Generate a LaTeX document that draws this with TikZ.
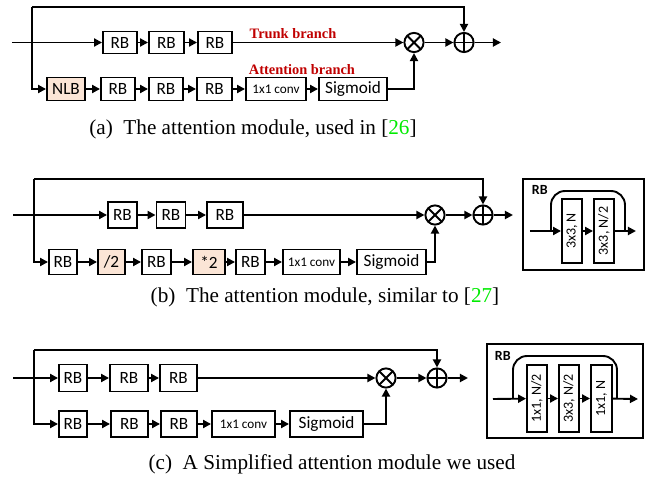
\documentclass[tikz,border=0pt]{standalone}
\usepackage{fontspec}
\setmainfont{Liberation Serif}
\newfontfamily\calib{Carlito}
\usetikzlibrary{arrows.meta}
\usetikzlibrary{calc}

\definecolor{peach}{RGB}{251,229,214}
\definecolor{branchred}{RGB}{192,0,0}
\definecolor{citegreen}{RGB}{0,235,0}

\tikzset{
	arr/.style={-{Triangle[length=4pt,width=4pt]}},
	blk/.style={draw, inner sep=0pt, font=\calib\fontsize{8.6}{9}\selectfont},
	blkf/.style={blk, fill=peach},
	cnv/.style={blk, font=\calib\fontsize{6.6}{7}\selectfont},
	mulop/.style={draw, circle, inner sep=0pt, minimum size=9.6pt,
		path picture={\draw (path picture bounding box.north west) -- (path picture bounding box.south east)
			(path picture bounding box.north east) -- (path picture bounding box.south west);}},
	addop/.style={draw, circle, inner sep=0pt, minimum size=9.6pt,
		path picture={\draw (path picture bounding box.north) -- (path picture bounding box.south)
			(path picture bounding box.west) -- (path picture bounding box.east);}},
	lbl/.style={text=branchred, font=\fontsize{7.2}{8}\selectfont\bfseries},
	captxt/.style={font=\fontsize{10.6}{12}\selectfont},
	subblk/.style={draw, inner sep=0pt, minimum width=10pt, rotate=90, font=\calib\fontsize{7}{8}\selectfont},
	rbname/.style={anchor=north west, inner sep=0pt, font=\calib\bfseries\fontsize{7}{8}\selectfont}
}

\begin{document}
\begin{tikzpicture}[x=0.5pt, y=-0.5pt, line width=0.95pt]
	\useasboundingbox (0,0) rectangle (650,482);

	%%% (a) attention module with NLB %%%

	\node[blk, minimum width=17pt, minimum height=11pt] (aT1) at (120,42.5) {RB};
	\node[blk, minimum width=17.5pt, minimum height=11pt] (aT2) at (166.5,42.5) {RB};
	\node[blk, minimum width=17pt, minimum height=11pt] (aT3) at (215,42.5) {RB};

	\node[blkf, minimum width=19pt, minimum height=11.5pt] (aNLB) at (66,89) {NLB};
	\node[blk, minimum width=17pt, minimum height=11.5pt] (aA1) at (118,89) {RB};
	\node[blk, minimum width=17pt, minimum height=11.5pt] (aA2) at (166,89) {RB};
	\node[blk, minimum width=17.5pt, minimum height=11.5pt] (aA3) at (214.5,89) {RB};
	\node[cnv, minimum width=30pt, minimum height=11.5pt] (aConv) at (276,89) {1x1 conv};
	\node[blk, minimum width=34pt, minimum height=11.5pt] (aSig) at (353,89) {Sigmoid};

	\node[mulop] (aMul) at (414,42.5) {};
	\node[addop] (aAdd) at (464,42.5) {};

	\coordinate (aIn) at (12,42.5);
	\coordinate (aTop) at (32,7);
	\coordinate (aOut) at (501,42.5);

	\node[lbl] (aTrunk) at (293,34) {Trunk branch};
	\node[lbl] (aAtt) at (302,70) {Attention branch};

	\draw[arr] (aIn) -- (aT1);
	\draw[arr] (aT1) -- (aT2);
	\draw[arr] (aT2) -- (aT3);
	\draw[arr] (aT3) -- (aMul);
	\draw[arr] (aMul) -- (aAdd);
	\draw[arr] (aAdd) -- (aOut);
	\draw[arr] (aTop) |- (aNLB);
	\draw[arr] (aTop) -| (aAdd);
	\draw[arr] (aNLB) -- (aA1);
	\draw[arr] (aA1) -- (aA2);
	\draw[arr] (aA2) -- (aA3);
	\draw[arr] (aA3) -- (aConv);
	\draw[arr] (aConv) -- (aSig);
	\draw[arr] (aSig) -| (aMul);

	\node[captxt] (aCap) at (253,129) {(a)~~The attention module, used in [\textcolor{citegreen}{26}]};

	%%% (b) attention module with down/up sampling %%%

	\node[blk, minimum width=14.5pt, minimum height=13pt] (bT1) at (122.5,215) {RB};
	\node[blk, minimum width=14.5pt, minimum height=13pt] (bT2) at (171,215) {RB};
	\node[blk, minimum width=18pt, minimum height=13pt] (bT3) at (225,215) {RB};

	\node[blk, minimum width=14pt, minimum height=12.5pt] (bA1) at (63,262) {RB};
	\node[blkf, minimum width=13.5pt, minimum height=12.5pt] (bDown) at (111.5,262) {/2};
	\node[blk, minimum width=14.5pt, minimum height=12.5pt] (bA2) at (156.5,262) {RB};
	\node[blkf, minimum width=16pt, minimum height=12.5pt] (bUp) at (209,262) {*2};
	\node[blk, minimum width=14.5pt, minimum height=12.5pt] (bA3) at (250.5,262) {RB};
	\node[cnv, minimum width=28.5pt, minimum height=12.5pt] (bConv) at (311.5,262) {1x1 conv};
	\node[blk, minimum width=34.5pt, minimum height=12.5pt] (bSig) at (391.5,262) {Sigmoid};

	\node[mulop] (bMul) at (435,215) {};
	\node[addop] (bAdd) at (483,215) {};

	\coordinate (bIn) at (13,215);
	\coordinate (bTop) at (34,179);
	\coordinate (bOut) at (513,215);

	\draw[arr] (bIn) -- (bT1);
	\draw[arr] (bT1) -- (bT2);
	\draw[arr] (bT2) -- (bT3);
	\draw[arr] (bT3) -- (bMul);
	\draw[arr] (bMul) -- (bAdd);
	\draw[arr] (bAdd) -- (bOut);
	\draw[arr] (bTop) |- (bA1);
	\draw[arr] (bTop) -| (bAdd);
	\draw[arr] (bA1) -- (bDown);
	\draw[arr] (bDown) -- (bA2);
	\draw[arr] (bA2) -- (bUp);
	\draw[arr] (bUp) -- (bA3);
	\draw[arr] (bA3) -- (bConv);
	\draw[arr] (bConv) -- (bSig);
	\draw[arr] (bSig) -| (bMul);

	% RB (b)
	\node[draw, minimum width=60.5pt, minimum height=45.5pt, inner sep=0pt] (bRB) at (583.5,224.5) {};
	\node[rbname] (bRBname) at (531,184) {RB};
	\node[subblk, minimum height=10pt, minimum width=32pt] (bS1) at (572,231) {3x3, N};
	\node[subblk, minimum height=10pt, minimum width=32pt] (bS2) at (604,231) {3x3, N/2};
	\coordinate (bSin) at (530,231);
	\coordinate (bSout) at (636,231);
	\draw[arr] (bSin) -- (bS1);
	\draw[arr] (bS1) -- (bS2);
	\draw[arr] (bS2) -- (bSout);
	\draw[rounded corners=7pt] (551,231) -- (551,191) -- (625,191) -- (625,231);

	\node[captxt] (bCap) at (325,297) {(b)~~The attention module, similar to [\textcolor{citegreen}{27}]};

	%%% (c) simplified attention module %%%

	\node[blk, minimum width=14pt, minimum height=13.5pt] (cT1) at (73,378) {RB};
	\node[blk, minimum width=19pt, minimum height=13.5pt] (cT2) at (129,378) {RB};
	\node[blk, minimum width=18.5pt, minimum height=13.5pt] (cT3) at (178.5,378) {RB};

	\node[blk, minimum width=14pt, minimum height=13pt] (cA1) at (73,424) {RB};
	\node[blk, minimum width=18.5pt, minimum height=13pt] (cA2) at (129.5,424) {RB};
	\node[blk, minimum width=18pt, minimum height=13pt] (cA3) at (179,424) {RB};
	\node[cnv, minimum width=31.5pt, minimum height=13pt] (cConv) at (243.5,424) {1x1 conv};
	\node[blk, minimum width=36.5pt, minimum height=13pt] (cSig) at (326.5,424) {Sigmoid};

	\node[mulop] (cMul) at (386,378) {};
	\node[addop] (cAdd) at (437,378) {};

	\coordinate (cIn) at (13,378);
	\coordinate (cTop) at (34,350);
	\coordinate (cOut) at (468,378);

	\draw[arr] (cIn) -- (cT1);
	\draw[arr] (cT1) -- (cT2);
	\draw[arr] (cT2) -- (cT3);
	\draw[arr] (cT3) -- (cMul);
	\draw[arr] (cMul) -- (cAdd);
	\draw[arr] (cAdd) -- (cOut);
	\draw[arr] (cTop) |- (cA1);
	\draw[arr] (cTop) -| (cAdd);
	\draw[arr] (cA1) -- (cA2);
	\draw[arr] (cA2) -- (cA3);
	\draw[arr] (cA3) -- (cConv);
	\draw[arr] (cConv) -- (cSig);
	\draw[arr] (cSig) -| (cMul);

	% RB (c)
	\node[draw, minimum width=78pt, minimum height=47pt, inner sep=0pt] (cRB) at (565,391) {};
	\node[rbname] (cRBname) at (494,350) {RB};
	\node[subblk, minimum height=10pt, minimum width=33.5pt] (cS1) at (537,398.5) {1x1, N/2};
	\node[subblk, minimum height=10pt, minimum width=33.5pt] (cS2) at (569,398.5) {3x3, N/2};
	\node[subblk, minimum height=10.5pt, minimum width=33.5pt] (cS3) at (601.5,398.5) {1x1, N};
	\coordinate (cSin) at (493,399);
	\coordinate (cSout) at (638,399);
	\draw[arr] (cSin) -- (cS1);
	\draw[arr] (cS1) -- (cS2);
	\draw[arr] (cS2) -- (cS3);
	\draw[arr] (cS3) -- (cSout);
	\draw[rounded corners=7pt] (513,399) -- (513,356) -- (617,356) -- (617,399);

	\node[captxt] (cCap) at (332,464) {(c)~~A Simplified attention module we used};

\end{tikzpicture}
\end{document}
